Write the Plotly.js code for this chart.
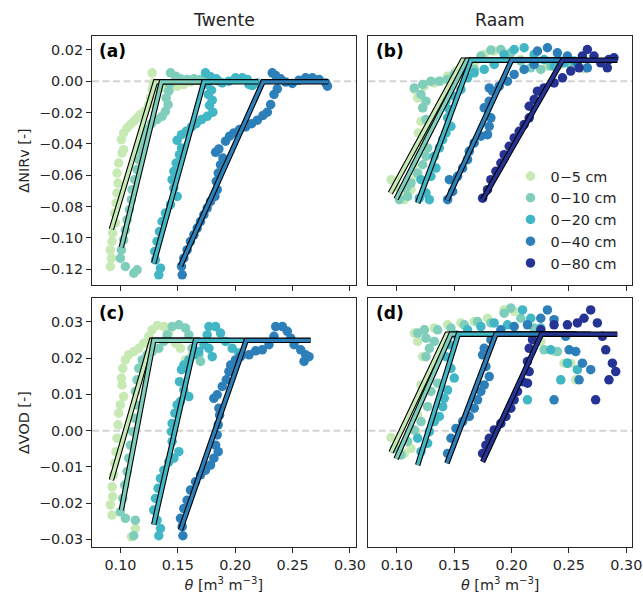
<!DOCTYPE html>
<html>
<head>
<meta charset="utf-8">
<script src="https://cdn.plot.ly/plotly-3.0.1.min.js"></script>
<style>html,body{margin:0;padding:0;background:#fff;}#chart{width:643px;height:594px;}</style>
</head>
<body>
<div id="chart"></div>
<script>
// ---------- categories ----------
const LABELS = ['0−5 cm','0−10 cm','0−20 cm','0−40 cm','0−80 cm'];
const COLORS = ['#c7e9b4','#7fcdbb','#41b6c4','#2c7fb8','#253494'];
const XTICKS = [0.10,0.15,0.20,0.25,0.30];
const YTICKS_NIRV = [-0.12,-0.10,-0.08,-0.06,-0.04,-0.02,0.00,0.02];
const YTICKS_VOD = [-0.03,-0.02,-0.01,0.00,0.01,0.02,0.03];

// ---------- (a) Twente, ΔNIRv ----------
const a_x5 = [0.0912,0.0921,0.0912,0.0927,0.0932,0.0956,0.0950,0.0962,0.0970,0.0979,0.0970,0.0985,0.1014,0.1028,0.1008,0.1028,0.1058,0.1087,0.1116,0.1145,0.1174,0.1212,0.1247,0.1261,0.1276,0.1285,0.1276,0.1319,0.1378,0.1436,0.1494,0.1552,0.1610,0.1669,0.1712];
const a_y5 = [-0.1182,-0.1129,-0.1076,-0.1022,-0.0969,-0.0905,-0.0841,-0.0777,-0.0714,-0.0650,-0.0586,-0.0522,-0.0458,-0.0437,-0.0373,-0.0330,-0.0298,-0.0277,-0.0256,-0.0234,-0.0213,-0.0192,-0.0149,-0.0107,-0.0053,-0.0011,0.0053,-0.0032,-0.0043,-0.0043,-0.0032,-0.0021,-0.0006,0.0006,-0.0006];
const a_x10 = [0.1116,0.1145,0.1043,0.0999,0.1008,0.1028,0.1043,0.1058,0.1078,0.1095,0.1101,0.1124,0.1145,0.1159,0.1174,0.1189,0.1212,0.1232,0.1270,0.1319,0.1363,0.1392,0.1415,0.1398,0.1421,0.1427,0.1436,0.1480,0.1523,0.1581,0.1640,0.1698,0.1756,0.1814,0.1858];
const a_y10 = [-0.1225,-0.1203,-0.1182,-0.1129,-0.1076,-0.1012,-0.0948,-0.0884,-0.0820,-0.0756,-0.0692,-0.0628,-0.0564,-0.0501,-0.0447,-0.0394,-0.0351,-0.0309,-0.0271,-0.0245,-0.0224,-0.0192,-0.0149,-0.0107,-0.0064,-0.0021,0.0053,0.0032,0.0015,0.0011,0.0015,0.0011,0.0015,0.0011,0.0000];
const a_x20 = [0.1334,0.1349,0.1305,0.1299,0.1319,0.1340,0.1363,0.1392,0.1436,0.1494,0.1465,0.1450,0.1465,0.1485,0.1514,0.1532,0.1494,0.1532,0.1573,0.1619,0.1660,0.1707,0.1756,0.1805,0.1776,0.1800,0.1765,0.1794,0.1756,0.1741,0.1785,0.1835,0.1887,0.1945,0.2003,0.2062,0.2105,0.2149,0.2120,0.2192];
const a_y20 = [-0.1235,-0.1193,-0.1140,-0.1086,-0.1022,-0.0959,-0.0895,-0.0841,-0.0788,-0.0735,-0.0682,-0.0628,-0.0575,-0.0522,-0.0469,-0.0426,-0.0377,-0.0341,-0.0320,-0.0292,-0.0271,-0.0245,-0.0224,-0.0198,-0.0155,-0.0121,-0.0085,-0.0058,-0.0021,0.0053,0.0028,0.0015,-0.0011,0.0000,0.0021,0.0021,0.0011,-0.0028,-0.0021,-0.0011];
const a_x40 = [0.1538,0.1532,0.1552,0.1581,0.1610,0.1640,0.1669,0.1698,0.1727,0.1756,0.1785,0.1823,0.1843,0.1835,0.1852,0.1872,0.1893,0.1829,0.1858,0.1916,0.1951,0.1989,0.2038,0.2091,0.2143,0.2193,0.2242,0.2280,0.2309,0.2338,0.2367,0.2323,0.2353,0.2396,0.2440,0.2498,0.2556,0.2614,0.2673,0.2731,0.2789,0.2804];
const a_y40 = [-0.1235,-0.1182,-0.1129,-0.1076,-0.1022,-0.0980,-0.0937,-0.0895,-0.0852,-0.0809,-0.0767,-0.0735,-0.0692,-0.0639,-0.0586,-0.0533,-0.0490,-0.0454,-0.0432,-0.0383,-0.0351,-0.0330,-0.0309,-0.0292,-0.0271,-0.0249,-0.0219,-0.0198,-0.0149,-0.0085,-0.0049,0.0053,0.0036,0.0015,-0.0006,-0.0015,0.0006,0.0021,0.0021,0.0011,-0.0011,-0.0032];

// ---------- (b) Raam, ΔNIRv ----------
const b_x5 = [0.0950,0.0994,0.1037,0.1066,0.1124,0.1168,0.1153,0.1182,0.1211,0.1188,0.1211,0.1226,0.1182,0.1153,0.1240,0.1327,0.1385,0.1443,0.1516,0.1588,0.1675,0.1762,0.1849,0.1965,0.2081,0.2197,0.2313,0.2429,0.2545,0.2632];
const b_y5 = [-0.0628,-0.0671,-0.0703,-0.0756,-0.0692,-0.0607,-0.0533,-0.0458,-0.0394,-0.0330,-0.0256,-0.0170,-0.0107,-0.0053,-0.0032,-0.0011,0.0000,0.0032,0.0064,0.0085,0.0117,0.0170,0.0192,0.0170,0.0138,0.0107,0.0096,0.0107,0.0096,0.0079];
const b_x10 = [0.1023,0.1095,0.1081,0.1124,0.1182,0.1226,0.1255,0.1269,0.1240,0.1284,0.1255,0.1226,0.1255,0.1211,0.1153,0.1226,0.1298,0.1371,0.1443,0.1501,0.1588,0.1675,0.1733,0.1820,0.1907,0.1994,0.2081,0.2168,0.2255,0.2342,0.2429,0.2516];
const b_y10 = [-0.0756,-0.0735,-0.0682,-0.0650,-0.0586,-0.0533,-0.0479,-0.0426,-0.0351,-0.0309,-0.0245,-0.0170,-0.0128,-0.0085,-0.0043,-0.0021,0.0000,0.0000,0.0011,0.0043,0.0053,0.0075,0.0160,0.0198,0.0202,0.0181,0.0128,0.0085,0.0075,0.0096,0.0128,0.0107];
const b_x20 = [0.1197,0.1255,0.1284,0.1211,0.1298,0.1342,0.1327,0.1371,0.1400,0.1429,0.1472,0.1443,0.1458,0.1429,0.1501,0.1559,0.1617,0.1675,0.1762,0.1849,0.1936,0.2023,0.2110,0.2197,0.2284,0.2371,0.2458,0.2545];
const b_y20 = [-0.0746,-0.0714,-0.0756,-0.0628,-0.0607,-0.0554,-0.0479,-0.0426,-0.0373,-0.0330,-0.0288,-0.0234,-0.0181,-0.0128,-0.0096,-0.0053,0.0021,0.0053,0.0075,0.0107,0.0170,0.0202,0.0213,0.0170,0.0138,0.0096,0.0117,0.0128];
const b_x40 = [0.1443,0.1487,0.1458,0.1530,0.1574,0.1617,0.1632,0.1675,0.1733,0.1791,0.1806,0.1820,0.1762,0.1806,0.1835,0.1806,0.1893,0.1965,0.2023,0.2110,0.2197,0.2226,0.2313,0.2400,0.2487,0.2574,0.2661];
const b_y40 = [-0.0756,-0.0703,-0.0628,-0.0607,-0.0554,-0.0501,-0.0447,-0.0394,-0.0351,-0.0341,-0.0288,-0.0234,-0.0170,-0.0128,-0.0064,-0.0043,-0.0032,0.0000,0.0043,0.0075,0.0107,0.0192,0.0213,0.0181,0.0160,0.0117,0.0085];
const b_x80 = [0.1748,0.1791,0.1820,0.1864,0.1907,0.1936,0.1980,0.2023,0.2067,0.2110,0.2154,0.2154,0.2197,0.2226,0.2284,0.2371,0.2444,0.2516,0.2589,0.2617,0.2661,0.2719,0.2777,0.2835,0.2893,0.2849];
const b_y80 = [-0.0746,-0.0692,-0.0628,-0.0575,-0.0522,-0.0469,-0.0415,-0.0362,-0.0320,-0.0277,-0.0234,-0.0160,-0.0117,-0.0064,-0.0043,-0.0011,0.0021,0.0064,0.0085,0.0160,0.0202,0.0160,0.0117,0.0085,0.0149,0.0138];

// ---------- (c) Twente, ΔVOD ----------
const c_x5 = [0.0927,0.0912,0.0932,0.0927,0.0941,0.0950,0.0962,0.0970,0.0979,0.0985,0.0999,0.1028,0.1014,0.1008,0.1020,0.1043,0.1072,0.1116,0.1159,0.1203,0.1247,0.1276,0.1320,0.1378,0.1421,0.1480,0.1523,0.1567,0.1625,0.1095,0.1130];
const c_y5 = [-0.0233,-0.0205,-0.0182,-0.0155,-0.0122,-0.0090,-0.0058,-0.0021,0.0016,0.0048,0.0071,0.0094,0.0126,0.0145,0.0172,0.0195,0.0209,0.0218,0.0227,0.0241,0.0260,0.0278,0.0290,0.0287,0.0269,0.0241,0.0227,0.0195,0.0209,-0.0293,-0.0270];
const c_x10 = [0.1116,0.1130,0.1043,0.0999,0.1020,0.1037,0.1058,0.1072,0.1087,0.1107,0.1124,0.1136,0.1130,0.1145,0.1159,0.1189,0.1232,0.1276,0.1334,0.1378,0.1407,0.1450,0.1509,0.1567,0.1596,0.1625,0.1683,0.1698];
const c_y10 = [-0.0290,-0.0247,-0.0242,-0.0224,-0.0187,-0.0150,-0.0113,-0.0076,-0.0040,-0.0003,0.0034,0.0071,0.0108,0.0140,0.0172,0.0195,0.0209,0.0218,0.0227,0.0246,0.0264,0.0287,0.0292,0.0283,0.0264,0.0227,0.0209,0.0191];
const c_x20 = [0.1334,0.1349,0.1319,0.1290,0.1305,0.1328,0.1349,0.1378,0.1421,0.1465,0.1509,0.1450,0.1445,0.1450,0.1474,0.1494,0.1523,0.1596,0.1552,0.1514,0.1532,0.1552,0.1596,0.1640,0.1683,0.1727,0.1756,0.1771,0.1829,0.1872,0.1916,0.1974,0.2032,0.2003,0.1800,0.1771];
const c_y20 = [-0.0290,-0.0270,-0.0247,-0.0219,-0.0187,-0.0159,-0.0132,-0.0109,-0.0086,-0.0076,-0.0058,-0.0030,-0.0003,0.0020,0.0048,0.0071,0.0080,0.0094,0.0112,0.0135,0.0168,0.0181,0.0195,0.0209,0.0218,0.0237,0.0264,0.0287,0.0287,0.0269,0.0246,0.0227,0.0214,0.0191,0.0204,0.0227];
const c_x40 = [0.1544,0.1538,0.1523,0.1552,0.1581,0.1610,0.1654,0.1698,0.1741,0.1785,0.1814,0.1852,0.1829,0.1843,0.1852,0.1864,0.1858,0.1814,0.1843,0.1887,0.1922,0.1945,0.1960,0.2003,0.2047,0.2120,0.2178,0.2236,0.2294,0.2338,0.2353,0.2411,0.2454,0.2484,0.2513,0.2571,0.2614,0.2643,0.2600];
const c_y40 = [-0.0290,-0.0265,-0.0242,-0.0215,-0.0192,-0.0164,-0.0141,-0.0122,-0.0109,-0.0095,-0.0076,-0.0058,-0.0040,-0.0012,0.0016,0.0043,0.0062,0.0089,0.0099,0.0122,0.0140,0.0163,0.0181,0.0195,0.0204,0.0209,0.0220,0.0223,0.0237,0.0260,0.0287,0.0287,0.0274,0.0255,0.0237,0.0223,0.0209,0.0204,0.0191];

// ---------- (d) Raam, ΔVOD ----------
const d_x5 = [0.0950,0.1008,0.1066,0.1124,0.1168,0.1182,0.1197,0.1211,0.1226,0.1182,0.1153,0.1240,0.1327,0.1443,0.1559,0.1675,0.1791,0.1936,0.2023,0.2139,0.2255,0.2371,0.2458,0.2516,0.2429,0.2560];
const d_y5 = [-0.0019,-0.0040,-0.0063,-0.0049,-0.0003,0.0043,0.0089,0.0126,0.0204,0.0246,0.0269,0.0278,0.0283,0.0292,0.0297,0.0301,0.0310,0.0333,0.0329,0.0297,0.0246,0.0218,0.0186,0.0186,0.0140,0.0140];
const d_x10 = [0.0979,0.1037,0.1095,0.1153,0.1211,0.1269,0.1298,0.1356,0.1313,0.1255,0.1284,0.1327,0.1255,0.1182,0.1240,0.1356,0.1472,0.1588,0.1704,0.1820,0.1936,0.1994,0.2081,0.2197,0.2284,0.2400,0.2487];
const d_y10 = [-0.0049,-0.0067,-0.0030,0.0002,0.0025,0.0066,0.0108,0.0131,0.0168,0.0204,0.0227,0.0246,0.0255,0.0269,0.0278,0.0278,0.0283,0.0292,0.0301,0.0297,0.0324,0.0338,0.0310,0.0283,0.0223,0.0218,0.0186];
const d_x20 = [0.1182,0.1211,0.1269,0.1284,0.1327,0.1371,0.1400,0.1414,0.1443,0.1501,0.1472,0.1429,0.1458,0.1516,0.1617,0.1733,0.1849,0.1965,0.2096,0.2168,0.2255,0.2342,0.2487,0.2574,0.2429,0.2139];
const d_y20 = [-0.0021,-0.0058,-0.0035,-0.0003,0.0025,0.0039,0.0066,0.0089,0.0112,0.0145,0.0172,0.0204,0.0237,0.0264,0.0278,0.0287,0.0297,0.0292,0.0333,0.0310,0.0283,0.0223,0.0186,0.0168,0.0140,0.0085];
const d_x40 = [0.1443,0.1472,0.1516,0.1574,0.1632,0.1675,0.1704,0.1733,0.1762,0.1806,0.1777,0.1748,0.1762,0.1820,0.1907,0.2023,0.2139,0.2255,0.2313,0.2371,0.2472,0.2502,0.2560,0.2618,0.2690,0.2589,0.2371];
const d_y40 = [-0.0063,-0.0021,0.0006,0.0025,0.0039,0.0062,0.0085,0.0108,0.0126,0.0149,0.0177,0.0209,0.0227,0.0251,0.0278,0.0287,0.0292,0.0310,0.0333,0.0306,0.0260,0.0223,0.0218,0.0186,0.0168,0.0140,0.0085];
const d_x80 = [0.1748,0.1777,0.1806,0.1849,0.1907,0.1951,0.1994,0.2023,0.2052,0.2096,0.2139,0.2154,0.2139,0.2154,0.2183,0.2255,0.2371,0.2487,0.2574,0.2632,0.2690,0.2748,0.2792,0.2821,0.2879,0.2908,0.2849,0.2733];
const d_y80 = [-0.0063,-0.0040,-0.0021,0.0002,0.0020,0.0039,0.0062,0.0085,0.0108,0.0135,0.0131,0.0163,0.0191,0.0227,0.0251,0.0278,0.0292,0.0292,0.0297,0.0310,0.0333,0.0297,0.0260,0.0223,0.0186,0.0163,0.0140,0.0085];

// ---------- piecewise-linear fits: [start, breakpoint, end] ----------
const a_fit_x = [[0.0921,0.1305,0.1712],[0.1008,0.1357,0.1858],[0.1290,0.1727,0.2201],[0.1523,0.2242,0.2812]];
const a_fit_y = [[-0.0944,-0.0004,-0.0004],[-0.1059,-0.0004,-0.0004],[-0.1161,-0.0004,-0.0004],[-0.1178,-0.0004,-0.0004]];
const b_fit_x = [[0.0944,0.1574,0.2632],[0.0994,0.1611,0.2516],[0.1182,0.1646,0.2545],[0.1437,0.2000,0.2661],[0.1748,0.2444,0.2922]];
const b_fit_y = [[-0.0714,0.0134,0.0134],[-0.0752,0.0134,0.0134],[-0.0777,0.0134,0.0134],[-0.0760,0.0134,0.0134],[-0.0756,0.0134,0.0134]];
const c_fit_x = [[0.0921,0.1270,0.1625],[0.1008,0.1290,0.1698],[0.1290,0.1654,0.2076],[0.1523,0.2096,0.2658]];
const c_fit_y = [[-0.0136,0.0249,0.0249],[-0.0219,0.0249,0.0249],[-0.0259,0.0249,0.0249],[-0.0274,0.0249,0.0249]];
const d_fit_x = [[0.0950,0.1437,0.2560],[0.0994,0.1472,0.2487],[0.1182,0.1536,0.2574],[0.1437,0.1864,0.2690],[0.1748,0.2261,0.2922]];
const d_fit_y = [[-0.0060,0.0266,0.0266],[-0.0078,0.0266,0.0266],[-0.0095,0.0266,0.0266],[-0.0090,0.0266,0.0266],[-0.0086,0.0266,0.0266]];

// ---------- build traces ----------
const FONT = 'DejaVu Sans, Arial, sans-serif';
const traces = [];
function addPanel(xs, ys, fx, fy, xa, ya, legend) {
  xs.forEach((x, i) => {
    traces.push({type:'scatter', mode:'markers', x:x, y:ys[i], xaxis:xa, yaxis:ya,
      name:LABELS[i], legendgroup:LABELS[i], showlegend:legend,
      marker:{color:COLORS[i], size:9.5, line:{width:0}}, hoverinfo:'skip'});
  });
  fx.forEach((x, i) => {
    traces.push({type:'scatter', mode:'lines', x:x, y:fy[i], xaxis:xa, yaxis:ya,
      showlegend:false, line:{color:'#000', width:5.5}, hoverinfo:'skip'});
    traces.push({type:'scatter', mode:'lines', x:x, y:fy[i], xaxis:xa, yaxis:ya,
      showlegend:false, line:{color:COLORS[i], width:3.3}, hoverinfo:'skip'});
  });
}
addPanel([a_x5,a_x10,a_x20,a_x40],[a_y5,a_y10,a_y20,a_y40],a_fit_x,a_fit_y,'x','y',false);
addPanel([b_x5,b_x10,b_x20,b_x40,b_x80],[b_y5,b_y10,b_y20,b_y40,b_y80],b_fit_x,b_fit_y,'x2','y2',true);
addPanel([c_x5,c_x10,c_x20,c_x40],[c_y5,c_y10,c_y20,c_y40],c_fit_x,c_fit_y,'x3','y3',false);
addPanel([d_x5,d_x10,d_x20,d_x40,d_x80],[d_y5,d_y10,d_y20,d_y40,d_y80],d_fit_x,d_fit_y,'x4','y4',false);

const XR = [0.0752, 0.305];
const YR1 = [-0.1300, 0.0288];
const YR2 = [-0.0321, 0.0365];
const LC = '#262626';
function xax(dom, anchor, labels, title) {
  const o = {domain:dom, anchor:anchor, range:XR, tickvals:XTICKS, tickformat:'.2f', showticklabels:labels,
    ticks:'outside', ticklen:5, tickwidth:1, tickcolor:LC, showline:true, linecolor:LC, linewidth:1,
    mirror:true, showgrid:false, zeroline:false, tickfont:{family:FONT, size:14.4, color:LC}};
  if (title) o.title = {text:title, font:{family:FONT, size:14.4, color:LC}, standoff:7};
  return o;
}
function yax(dom, anchor, range, ticks, labels, title) {
  const o = {domain:dom, anchor:anchor, range:range, tickvals:ticks, tickformat:'.2f', showticklabels:labels,
    ticks: labels ? 'outside' : '', ticklen:5, tickwidth:1, tickcolor:LC, showline:true, linecolor:LC, linewidth:1,
    mirror:true, showgrid:false, zeroline:false, tickfont:{family:FONT, size:14.4, color:LC}};
  if (title) o.title = {text:title, font:{family:FONT, size:14.4, color:LC}, standoff:5};
  return o;
}
const XL = [0, 0.4883], XRD = [0.5117, 1];
const YT = [0.5127, 1], YB = [0, 0.4867];
const XTITLE = '<i>θ</i> [m<sup>3</sup> m<sup>−3</sup>]';

const zeroLine = (xa, ya) => ({type:'line', xref:xa+' domain', yref:ya, x0:0, x1:1, y0:0, y1:0,
  line:{color:'#d3d3d3', width:2, dash:'7px,3.5px'}, layer:'below'});
const panelLabel = (txt, xa, ya) => ({text:'<b>'+txt+'</b>', xref:xa+' domain', yref:ya+' domain',
  x:0.02, y:0.94, xanchor:'left', yanchor:'middle', showarrow:false, font:{family:FONT, size:17, color:'#000'}});

const layout = {
  width:643, height:594, margin:{l:92, r:11, t:36, b:47},
  paper_bgcolor:'#fff', plot_bgcolor:'#fff', font:{family:FONT, color:LC},
  xaxis: xax(XL, 'y', false), yaxis: yax(YT, 'x', YR1, YTICKS_NIRV, true, 'ΔNIRv [-]'),
  xaxis2: xax(XRD, 'y2', false), yaxis2: yax(YT, 'x2', YR1, YTICKS_NIRV, false),
  xaxis3: xax(XL, 'y3', true, XTITLE), yaxis3: yax(YB, 'x3', YR2, YTICKS_VOD, true, 'ΔVOD [-]'),
  xaxis4: xax(XRD, 'y4', true, XTITLE), yaxis4: yax(YB, 'x4', YR2, YTICKS_VOD, false),
  shapes:[zeroLine('x','y'), zeroLine('x2','y2'), zeroLine('x3','y3'), zeroLine('x4','y4')],
  annotations:[
    {text:'Twente', xref:'paper', yref:'paper', x:0.2441, y:1.031, xanchor:'center', yanchor:'middle', showarrow:false, font:{family:FONT, size:17.3, color:LC}},
    {text:'Raam', xref:'paper', yref:'paper', x:0.7558, y:1.031, xanchor:'center', yanchor:'middle', showarrow:false, font:{family:FONT, size:17.3, color:LC}},
    panelLabel('(a)','x','y'), panelLabel('(b)','x2','y2'), panelLabel('(c)','x3','y3'), panelLabel('(d)','x4','y4')
  ],
  showlegend:true,
  legend:{x:0.775, y:0.757, xanchor:'left', yanchor:'top', bgcolor:'rgba(0,0,0,0)', borderwidth:0,
    font:{family:FONT, size:14.4, color:LC}, tracegroupgap:0, itemclick:false}
};
Plotly.newPlot('chart', traces, layout, {staticPlot:true, displayModeBar:false});
</script>
</body>
</html>
